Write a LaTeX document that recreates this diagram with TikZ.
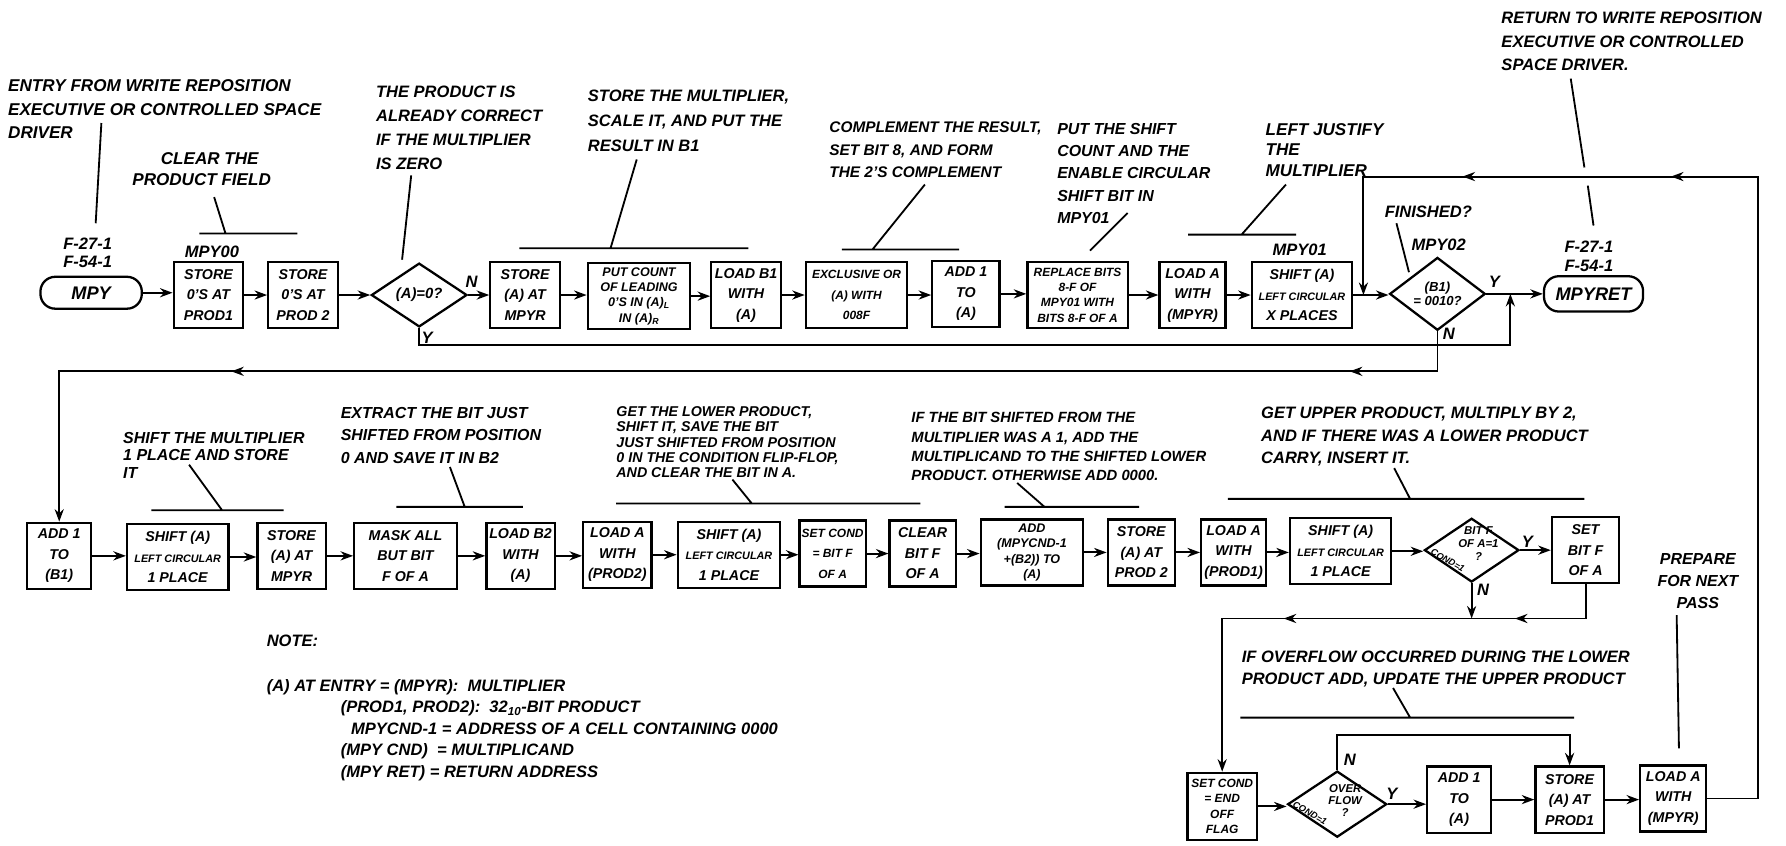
\documentclass[tikz,border=0pt]{standalone}
\usepackage{fontspec}
\setmainfont{Liberation Sans}
\usetikzlibrary{arrows.meta, shapes.geometric, decorations.markings}
\newcommand{\hw}[2]{\bfseries\itshape\fontsize{#1}{#2}\selectfont}

\begin{document}
\begin{tikzpicture}[x=1pt, y=-1pt,
    box/.style={draw, line width=2pt, minimum width=#1, minimum height=58pt,
                inner sep=1pt, align=center, font=\hw{12.5}{18}},
    box/.default=60pt,
    dbox/.style={box=#1, font=\hw{10.5}{13.5}},
    dbox/.default=60pt,
    dec/.style={draw, diamond, line width=2pt, minimum width=84pt, minimum height=56pt,
                inner sep=0pt, align=center, font=\hw{13}{14}},
    dtext/.style={inner sep=0pt, align=center, font=\hw{10}{11.5}},
    term/.style={draw, rounded corners=13pt, line width=2pt, minimum width=89pt,
                 minimum height=28pt, inner sep=0pt, font=\hw{16}{17}},
    lbl/.style={inner sep=0pt, align=center, font=\hw{14.5}{16}},
    cond/.style={inner sep=0pt, rotate=-30, font=\hw{8}{8}},
    note/.style={anchor=north west, inner sep=0pt, align=left, font=\hw{14.5}{21}},
    arrow/.style={-{Stealth[length=11pt,width=8pt]}, line width=1.7pt},
    wire/.style={line width=1.7pt},
    lead/.style={line width=1.6pt},
    markat/.style={postaction={decorate, decoration={markings,
                   mark=at position #1 with {\arrow{Stealth[length=11pt,width=8pt]}}}}}
  ]
    \useasboundingbox (0,0) rectangle (1568,742);

    % first pass: set up the multiplier
    \node[term] (mpy) at (80,257) {MPY};
    \node[lbl] (fmpy) at (77,222) {F-27-1\\F-54-1};
    \node[box=61pt] (s1) at (183,259) {STORE\\0'S AT\\PROD1};
    \node[lbl] (l00) at (186,221) {MPY00};
    \node[box=61pt] (s2) at (266,259) {STORE\\0'S AT\\PROD 2};
    \node[dec] (d1) at (368,259) {(A)=0?};
    \node[box=61pt] (s3) at (461,259) {STORE\\(A) AT\\MPYR};
    \node[dbox=90pt, font=\hw{11}{13.5}] (s4) at (561,260)
      {PUT COUNT\\OF LEADING\\0'S IN (A)\textsubscript{L}\\IN (A)\textsubscript{R}};
    \node[box=61pt] (s5) at (655,259) {LOAD B1\\WITH\\(A)};
    \node[box=89pt, font=\hw{10.5}{18}] (s6) at (752,259) {EXCLUSIVE OR\\(A) WITH\\008F};
    \node[box=59pt] (s7) at (848,258) {ADD 1\\TO\\(A)};
    \node[dbox=88pt] (s8) at (946,259) {REPLACE BITS\\8-F OF\\MPY01 WITH\\BITS 8-F OF A};
    \node[box=58pt] (s9) at (1047,259) {LOAD A\\WITH\\(MPYR)};
    \node[box=88pt] (s10) at (1143,259) {SHIFT (A)\\{\hw{9.5}{12}LEFT CIRCULAR}\\X PLACES};
    \node[lbl] (l01) at (1141,219) {MPY01};
    \node[dec, font=\hw{11.5}{13}] (d2) at (1262,258) {(B1)\\= 0010?};
    \node[lbl] (l02) at (1263,215) {MPY02};
    \node[lbl] (lfin) at (1254,186) {FINISHED?};
    \node[term, minimum width=87pt, minimum height=31pt] (ret) at (1399,258) {MPYRET};
    \node[lbl] (fret) at (1395,225) {F-27-1\\F-54-1};

    % one pass of the loop
    \node[box=56pt] (r1) at (52,488) {ADD 1\\TO\\(B1)};
    \node[box=89pt] (r2) at (156,489) {SHIFT (A)\\{\hw{9.5}{12}LEFT CIRCULAR}\\1 PLACE};
    \node[box=60pt] (r3) at (256,488) {STORE\\(A) AT\\MPYR};
    \node[box=90pt] (r4) at (356,488) {MASK ALL\\BUT BIT\\F OF A};
    \node[box=60pt] (r5) at (457,488) {LOAD B2\\WITH\\(A)};
    \node[box=60pt] (r6) at (542,487) {LOAD A\\WITH\\(PROD2)};
    \node[box=90pt] (r7) at (640,487) {SHIFT (A)\\{\hw{9.5}{12}LEFT CIRCULAR}\\1 PLACE};
    \node[box=58pt, font=\hw{10.5}{18}] (r8) at (731,486) {SET COND\\= BIT F\\OF A};
    \node[box=58pt] (r9) at (810,486) {CLEAR\\BIT F\\OF A};
    \node[dbox=90pt, font=\hw{11}{13.5}] (r10) at (906,485) {ADD\\(MPYCND-1\\+(B2)) TO\\(A)};
    \node[box=59pt] (r11) at (1002,485) {STORE\\(A) AT\\PROD 2};
    \node[box=57pt] (r12) at (1083,485) {LOAD A\\WITH\\(PROD1)};
    \node[box=89pt] (r13) at (1177,484) {SHIFT (A)\\{\hw{9.5}{12}LEFT CIRCULAR}\\1 PLACE};
    \node[dec, minimum width=83pt] (d3) at (1292,483) {};
    \node[dtext] (t3) at (1298,477) {BIT F\\OF A=1\\?};
    \node[cond] (c3) at (1271,492) {COND=1};
    \node[box=59pt] (r14) at (1392,483) {SET\\BIT F\\OF A};

    % upper product carry
    \node[dbox=61pt, minimum height=59pt] (q1) at (1073,708) {SET COND\\= END\\OFF\\FLAG};
    \node[dec, minimum width=87pt, minimum height=58pt] (d4) at (1174,706) {};
    \node[dtext, font=\hw{10}{10.5}] (t4) at (1181,703) {OVER\\FLOW\\?};
    \node[cond] (c4) at (1150,714) {COND=1};
    \node[box=56pt] (q2) at (1281,702) {ADD 1\\TO\\(A)};
    \node[box=60pt] (q3) at (1378,702) {STORE\\(A) AT\\PROD1};
    \node[box=58pt] (q4) at (1469,701) {LOAD A\\WITH\\(MPYR)};

    % Y / N marks
    \node[lbl] (ln1) at (414,247) {N};
    \node[lbl] (ly1) at (375,297) {Y};
    \node[lbl] (ly2) at (1312,247) {Y};
    \node[lbl] (ln2) at (1272,293) {N};
    \node[lbl] (ly3) at (1341,476) {Y};
    \node[lbl] (ln3) at (1302,518) {N};
    \node[lbl] (ly4) at (1222,697) {Y};
    \node[lbl] (ln4) at (1185,667) {N};

    % comments
    \node[note, font=\hw{15}{20.5}] (nentry) at (7,70)
      {ENTRY FROM WRITE REPOSITION\\EXECUTIVE OR CONTROLLED SPACE\\DRIVER};
    \node[note, font=\hw{15}{18}] (nclear) at (116,134) {\hspace*{25pt}CLEAR THE\\PRODUCT FIELD};
    \node[note, font=\hw{14.5}{21.3}] (nprod) at (330,75)
      {THE PRODUCT IS\\ALREADY CORRECT\\IF THE MULTIPLIER\\IS ZERO};
    \node[note, font=\hw{14.5}{22}] (nstore) at (516,79)
      {STORE THE MULTIPLIER,\\SCALE IT, AND PUT THE\\RESULT IN B1};
    \node[note, font=\hw{13.5}{19.5}] (ncompl) at (728,107)
      {COMPLEMENT THE RESULT,\\SET BIT 8, AND FORM\\THE 2'S COMPLEMENT};
    \node[note, font=\hw{14}{19.5}] (nshift) at (928,108)
      {PUT THE SHIFT\\COUNT AND THE\\ENABLE CIRCULAR\\SHIFT BIT IN\\MPY01};
    \node[note, font=\hw{15}{18}] (njust) at (1111,108) {LEFT JUSTIFY\\THE\\MULTIPLIER};
    \node[note, font=\hw{14.5}{21}] (nret) at (1318,10)
      {RETURN TO WRITE REPOSITION\\EXECUTIVE OR CONTROLLED\\SPACE DRIVER.};
    \node[note, font=\hw{14}{15.5}] (nmult) at (108,379)
      {SHIFT THE MULTIPLIER\\1 PLACE AND STORE\\IT};
    \node[note, font=\hw{14}{20}] (nextract) at (299,357)
      {EXTRACT THE BIT JUST\\SHIFTED FROM POSITION\\0 AND SAVE IT IN B2};
    \node[note, font=\hw{12.5}{13.3}] (nlower) at (541,357)
      {GET THE LOWER PRODUCT,\\SHIFT IT, SAVE THE BIT\\JUST SHIFTED FROM POSITION\\0 IN THE CONDITION FLIP-FLOP,\\AND CLEAR THE BIT IN A.};
    \node[note, font=\hw{13}{17}] (nbit) at (800,362)
      {IF THE BIT SHIFTED FROM THE\\MULTIPLIER WAS A 1, ADD THE\\MULTIPLICAND TO THE SHIFTED LOWER\\PRODUCT. OTHERWISE ADD 0000.};
    \node[note, font=\hw{14.5}{20}] (nupper) at (1107,357)
      {GET UPPER PRODUCT, MULTIPLY BY 2,\\AND IF THERE WAS A LOWER PRODUCT\\CARRY, INSERT IT.};
    \node[note, align=center, font=\hw{14}{19}] (nprep) at (1455,486) {PREPARE\\FOR NEXT\\PASS};
    \node[note, font=\hw{14.5}{20}] (nover) at (1090,571)
      {IF OVERFLOW OCCURRED DURING THE LOWER\\PRODUCT ADD, UPDATE THE UPPER PRODUCT};
    \node[note] (nnote) at (234,557) {NOTE:};
    \node[note, font=\hw{14.5}{19}] (ndef) at (234,596)
      {(A) AT ENTRY = (MPYR):\ \ MULTIPLIER\\
       \hspace*{65pt}(PROD1, PROD2):\ \ 32\textsubscript{10}-BIT PRODUCT\\
       \hspace*{74pt}MPYCND-1 = ADDRESS OF A CELL CONTAINING 0000\\
       \hspace*{65pt}(MPY CND)\ \ = MULTIPLICAND\\
       \hspace*{65pt}(MPY RET) = RETURN ADDRESS};

    % comment leaders
    \draw[lead] (89,108) -- (84,196);
    \draw[lead] (175,205) -- (261,205) (188,173) -- (198,205);
    \draw[lead] (361,154) -- (353,228);
    \draw[lead] (456,218) -- (657,218) (559,140) -- (536,218);
    \draw[lead] (739,219) -- (842,219) (812,162) -- (766,219);
    \draw[lead] (990,187) -- (957,220);
    \draw[lead] (1043,206) -- (1138,206) (1129,162) -- (1090,206);
    \draw[lead] (1226,196) -- (1237,239);
    \draw[lead] (1379,69) -- (1391,147) (1394,163) -- (1399,198);
    \draw[lead] (133,448) -- (249,448) (166,408) -- (195,448);
    \draw[lead] (348,445) -- (459,445) (395,410) -- (408,445);
    \draw[lead] (541,442) -- (808,442) (643,421) -- (660,442);
    \draw[lead] (882,445) -- (1000,445) (893,424) -- (917,445);
    \draw[lead] (1078,438) -- (1391,438) (1224,411) -- (1238,438);
    \draw[lead] (1089,630) -- (1382,630) (1223,604) -- (1238,630);
    \draw[lead] (1472,540) -- (1474,657);

    % flow lines
    \coordinate (y1) at (1326,303);
    \coordinate (rl) at (1543,155);
    \coordinate (rj) at (1197,259);
    \coordinate (nl) at (52,326);
    \coordinate (j1) at (1292,543);
    \coordinate (nq) at (1174,645);

    \draw[arrow] (mpy.east) -- (mpy.east -| s1.west);
    \draw[arrow] (s1.east) -- (s1.east -| s2.west);
    \draw[arrow] (s2.east) -- (s2.east -| d1.west);
    \draw[arrow] (d1.east) -- (d1.east -| s3.west);
    \draw[arrow] (s3.east) -- (s3.east -| s4.west);
    \draw[arrow] (s4.east) -- (s4.east -| s5.west);
    \draw[arrow] (s5.east) -- (s5.east -| s6.west);
    \draw[arrow] (s6.east) -- (s6.east -| s7.west);
    \draw[arrow] (s7.east) -- (s7.east -| s8.west);
    \draw[arrow] (s8.east) -- (s8.east -| s9.west);
    \draw[arrow] (s9.east) -- (s9.east -| s10.west);
    \draw[arrow] (s10.east) -- (s10.east -| d2.west);
    \draw[arrow] (d2.east) -- (ret.west);
    \draw[arrow] (d1.south) |- (y1) -- (y1 |- ret.west);
    \draw[arrow, markat=112pt, markat=1094pt] (d2.south) |- (nl) -- (r1.north);

    \draw[arrow] (r1.east) -- (r1.east -| r2.west);
    \draw[arrow] (r2.east) -- (r2.east -| r3.west);
    \draw[arrow] (r3.east) -- (r3.east -| r4.west);
    \draw[arrow] (r4.east) -- (r4.east -| r5.west);
    \draw[arrow] (r5.east) -- (r5.east -| r6.west);
    \draw[arrow] (r6.east) -- (r6.east -| r7.west);
    \draw[arrow] (r7.east) -- (r7.east -| r8.west);
    \draw[arrow] (r8.east) -- (r8.east -| r9.west);
    \draw[arrow] (r9.east) -- (r9.east -| r10.west);
    \draw[arrow] (r10.east) -- (r10.east -| r11.west);
    \draw[arrow] (r11.east) -- (r11.east -| r12.west);
    \draw[arrow] (r12.east) -- (r12.east -| r13.west);
    \draw[arrow] (r13.east) -- (r13.east -| d3.west);
    \draw[arrow] (d3.east) -- (d3.east -| r14.west);
    \draw[arrow] (d3.south) -- (j1);
    \draw[wire, markat=92pt] (r14.south) |- (j1);
    \draw[arrow, markat=165pt] (j1) -| (q1.north);

    \draw[arrow] (q1.east) -- (q1.east -| d4.west);
    \draw[arrow] (d4.east) -- (d4.east -| q2.west);
    \draw[arrow] (q2.east) -- (q2.east -| q3.west);
    \draw[arrow] (q3.east) -- (q3.east -| q4.west);
    \draw[arrow] (d4.north) -- (nq) -| (q3.north);
    \draw[arrow, markat=666pt, markat=849pt] (q4.east) -| (rl) -| (rj);
  \end{tikzpicture}
\end{document}
